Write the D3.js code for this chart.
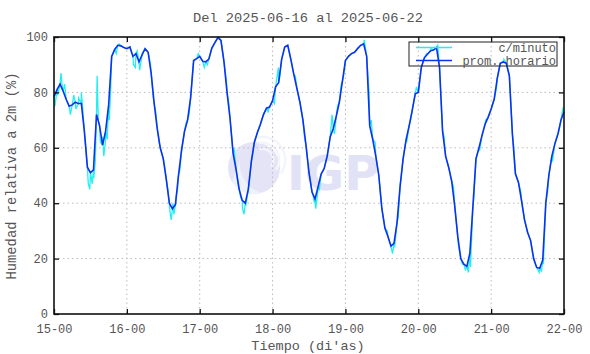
<!DOCTYPE html>
<html><head><meta charset="utf-8">
<script src="https://cdn.jsdelivr.net/npm/d3@7"></script>
<style>body{margin:0;background:#fff}svg{display:block}</style>
</head><body>
<svg id="c" width="590" height="354"></svg>
<script>
const title = "Del 2025-06-16 al 2025-06-22";
const yLabel = "Humedad relativa a 2m (%)";
const xLabel = "Tiempo (di'as)";
const xTickLabels = ["15-00","16-00","17-00","18-00","19-00","20-00","21-00","22-00"];
const yTicks = [0,20,40,60,80,100];
const legendLabels = ["c/minuto","prom. horario"];
// hourly mean, hours from 15-00
const hourly = [
78.5,81,83,80.5,77.5,75,75.5,76.5,76,76,66,53,51,52,72,68,61,66,75.5,93,95.5,97,96.8,96.2,
95.8,96.4,93,94,91,93.5,95.8,94.5,87,76,67,60,56,48.5,40,38,39.5,50,59,66,70,78,91.5,92.2,
93,91.2,91,92,96,98,99.8,98.8,91,80,70.5,58,52,45,41,40,45,55,62,65.5,68.5,72,74.3,74.7,
77,82,83.5,92,96.4,97,92,86.5,81.5,76.5,70,61,51,44,41.5,46,50.5,52.5,57,64,67,71.5,76.5,84,
91.5,93,94,94.5,95.8,97,97.5,93,68,63,57,50,38,31,28,24.5,25.5,33,46,56,63,68,73.5,79.5,
80,89,92.5,93.8,95,95.3,96.2,89,66,57,53,48,39,28,20,18,17.2,22,39,56,60,64.5,68.5,71,
74,77.5,85,90.5,91,90.5,86,65,50.6,47.5,41,34,29.5,26.5,20,16.8,16.5,19.5,40,50,57,61.5,65,70,
73];
// per-minute excursions: [hour, value]
const minuteSpikes = [
[0.3,75],[1.2,79],[2.3,87],[2.8,81],[3.5,83],[5.4,72],[6.5,79],[7.2,74],[8.1,78],[9.0,80],[9.4,75],
[11.3,47],[11.8,45],[12.2,50],[12.6,47],[13.1,49],[13.6,55],[14.2,86],[14.6,70],[15.3,62],[16.0,64],[16.4,57],
[16.9,62],[17.5,63],[18.2,70],[18.6,79],[20.5,94],[21.5,97.5],[26.2,90],[26.8,89],[27.4,95],[28.2,88],[29.0,94],
[31.8,90],[32.7,78],[33.5,73],[34.6,62],[36.5,53],[37.5,45],[38.2,37],[38.6,34],[39.2,40],[39.5,36],[40.2,42],
[40.7,45],[41.5,52],[43.5,69],[44.5,72],[47.5,94],[49.5,89],[50.5,90],[54.2,100],[56.8,84],[57.6,76],
[59.3,60],[60.5,48],[61.5,42],[62.1,38],[62.6,36],[63.2,39],[64.3,47],[65.5,58],[70.5,73],[72.6,76],
[73.9,89],[74.4,86],[75.5,94],[79.5,86],[82.5,64],[84.5,48],[85.3,43],[85.8,40],[86.2,38],[86.8,43],[87.4,45],
[89.5,55],[90.4,60],[91.6,72],[92.4,65],[93.4,75],[94.6,83],[95.4,86],[102.2,99],[103.8,80],[104.5,70],
[105.8,62],[107.4,45],[108.8,33],[109.8,30],[110.6,26],[111.5,21.8],[112.2,24],[113.4,35],[116.2,62],[117.5,70],
[119.4,82],[122.8,94],[124.2,96],[126.4,97],[128.5,64],[131.6,46],[133.2,25],[134.5,18],[135.5,16],[136.5,15],
[137.2,17],[138.3,42],[140.2,59],[142.2,70],[145.8,82],[148.2,92],[151.4,61],[153.8,44],[156.5,28],[158.5,18],
[159.8,15],[160.6,15.5],[161.2,18],[162.6,44],[164.2,55],[166.5,67],[167.6,74]];

const svg = d3.select("#c");
const L = 54, R = 564, T = 37, B = 314;
const x = d3.scaleLinear().domain([0,168]).range([L,R]);
const y = d3.scaleLinear().domain([0,100]).range([B,T]);
const mono = "'Liberation Mono','DejaVu Sans Mono',monospace";
const txt = "#555";

// watermark
const wm = svg.append("g");
wm.append("circle").attr("cx",254).attr("cy",168).attr("r",26).attr("fill","#e4e4f6");
wm.append("path").attr("d","M232,182 A26,26 0 0 0 262,193 A30,30 0 0 1 240,160 Z").attr("fill","#eef2fc");
[10,16,22].forEach(r=>wm.append("path").attr("d",d3.arc()({innerRadius:r,outerRadius:r+2.5,startAngle:-0.2,endAngle:2.2})).attr("transform","translate(262,160)").attr("fill","#f4f4fc"));
wm.append("text").attr("x",287).attr("y",190).attr("font-family","'DejaVu Sans',sans-serif").attr("font-weight","bold").attr("font-size",48).attr("fill","#e2e2f6").text("IGP");

// grid
const g = svg.append("g");
yTicks.filter(v=>v>0&&v<100).forEach(v=>g.append("line").attr("x1",L).attr("x2",R).attr("y1",y(v)).attr("y2",y(v)).attr("stroke","#bbb").attr("stroke-dasharray","1.5,3"));
xTickLabels.forEach((t,i)=>{ if(i>0&&i<7) g.append("line").attr("x1",x(i*24)).attr("x2",x(i*24)).attr("y1",T).attr("y2",B).attr("stroke","#bbb").attr("stroke-dasharray","1.5,3");});

// minute series (cyan): hourly backbone merged with read excursions
const minutePts = hourly.map((v,i)=>[i,v]).concat(minuteSpikes).sort((a,b)=>a[0]-b[0]);
const line = d3.line().x(d=>x(d[0])).y(d=>y(d[1]));
svg.append("path").attr("d",line(minutePts)).attr("fill","none").attr("stroke","#22f0f0").attr("stroke-width",1.3);
svg.append("path").attr("d",line(hourly.map((v,i)=>[i,v]))).attr("fill","none").attr("stroke","#1030f0").attr("stroke-width",1.6);

// frame
svg.append("rect").attr("x",L).attr("y",T).attr("width",R-L).attr("height",B-T).attr("fill","none").attr("stroke","#111").attr("stroke-width",1.6);
// ticks
const xa = d3.axisBottom(x).tickValues(d3.range(0,169,24)).tickFormat((d,i)=>xTickLabels[i]).tickSize(-5).tickPadding(10);
const xg = svg.append("g").attr("transform",`translate(0,${B})`).call(xa);
const xt = svg.append("g").attr("transform",`translate(0,${T})`).call(d3.axisTop(x).tickValues(d3.range(0,169,24)).tickSize(-5).tickFormat(""));
const ya = svg.append("g").attr("transform",`translate(${L},0)`).call(d3.axisLeft(y).tickValues(yTicks).tickSize(-5).tickPadding(6));
const yr = svg.append("g").attr("transform",`translate(${R},0)`).call(d3.axisRight(y).tickValues(yTicks).tickSize(-5).tickFormat(""));
[xg,xt,ya,yr].forEach(a=>{a.select(".domain").remove();a.selectAll("line").attr("stroke","#111").attr("stroke-width",1.3);
  a.selectAll("text").attr("font-family",mono).attr("font-size",12).attr("fill",txt);});
ya.selectAll("text").attr("dy","0.3em");

// titles
svg.append("text").attr("x",308).attr("y",22).attr("text-anchor","middle").attr("font-family",mono).attr("font-size",13.7).attr("fill",txt).text(title);
svg.append("text").attr("x",308).attr("y",350).attr("text-anchor","middle").attr("font-family",mono).attr("font-size",13.5).attr("fill",txt).text(xLabel);
svg.append("text").attr("transform","translate(16,176) rotate(-90)").attr("text-anchor","middle").attr("font-family",mono).attr("font-size",13.8).attr("fill",txt).text(yLabel);

// legend
const lg = svg.append("g");
lg.append("rect").attr("x",409).attr("y",42).attr("width",148).attr("height",24).attr("fill","none").attr("stroke","#222").attr("stroke-width",1);
const lcol = ["#22f0f0","#1030f0"];
legendLabels.forEach((t,i)=>{
  const yy = 47.5+i*13;
  lg.append("line").attr("x1",416).attr("x2",452).attr("y1",yy).attr("y2",yy).attr("stroke",lcol[i]).attr("stroke-width",1.3);
  lg.append("text").attr("x",556).attr("y",yy+4).attr("text-anchor","end").attr("font-family",mono).attr("font-size",12).attr("fill",txt).text(t);
});
</script>
</body></html>
